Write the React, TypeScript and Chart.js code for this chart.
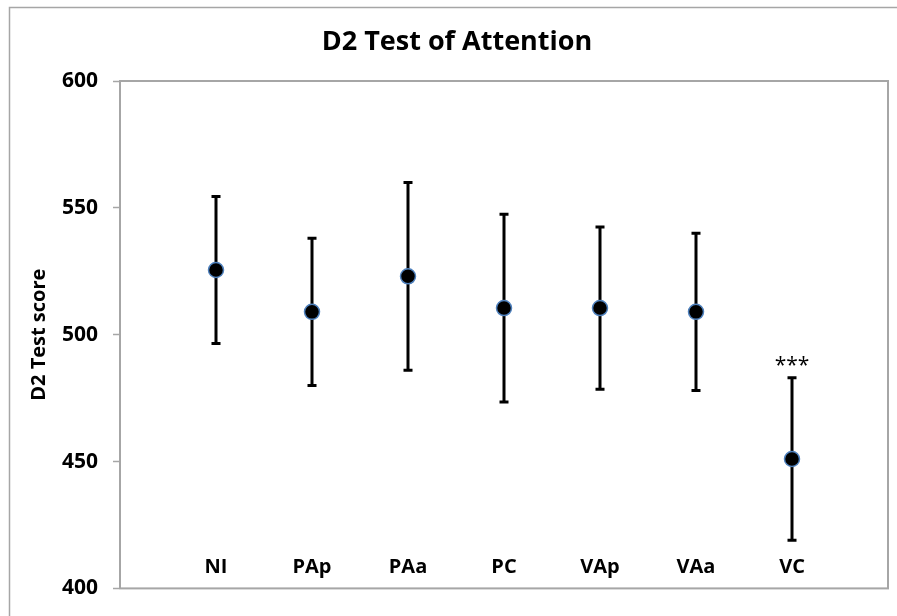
import React, { useEffect, useRef } from "react";
import { Chart, registerables } from "chart.js";

Chart.register(...registerables);

const chartTitle = "D2 Test of Attention";
const yAxisTitle = "D2 Test score";
const categories = ["NI", "PAp", "PAa", "PC", "VAp", "VAa", "VC"];
const means = [525.5, 509, 523, 510.5, 510.5, 509, 451];
const errors = [29, 29, 37, 37, 32, 31, 32];
const significance = ["", "", "", "", "", "", "***"];
const yTicks = [400, 450, 500, 550, 600];

const FONT = "'Open Sans', 'Noto Sans', sans-serif";
const GREY = "#a6a6a6";

const decorPlugin = {
  id: "decor",
  beforeDraw(chart: any) {
    const { ctx, chartArea } = chart;
    ctx.save();
    ctx.fillStyle = "#ffffff";
    ctx.fillRect(0, 0, chart.width, chart.height);
    // outer chart border
    ctx.strokeStyle = GREY;
    ctx.lineWidth = 1.5;
    ctx.strokeRect(9.5, 7.5, chart.width + 20, chart.height + 20);
    // plot frame
    ctx.lineWidth = 2;
    ctx.strokeRect(chartArea.left, chartArea.top, chartArea.right - chartArea.left, chartArea.bottom - chartArea.top);
    // title
    ctx.fillStyle = "#000";
    ctx.font = `bold 27px ${FONT}`;
    ctx.textAlign = "center";
    ctx.textBaseline = "middle";
    ctx.fillText(chartTitle, 457, 42);
    ctx.restore();
  },
  beforeDatasetsDraw(chart: any) {
    const { ctx, chartArea } = chart;
    const xs = chart.scales.x;
    const ys = chart.scales.y;
    ctx.save();
    ctx.strokeStyle = "#000";
    ctx.lineWidth = 3;
    means.forEach((m, i) => {
      const x = xs.getPixelForValue(i + 1);
      const yT = ys.getPixelForValue(m + errors[i]);
      const yB = ys.getPixelForValue(m - errors[i]);
      ctx.beginPath();
      ctx.moveTo(x, yT);
      ctx.lineTo(x, yB);
      ctx.moveTo(x - 4.5, yT);
      ctx.lineTo(x + 4.5, yT);
      ctx.moveTo(x - 4.5, yB);
      ctx.lineTo(x + 4.5, yB);
      ctx.stroke();
      if (significance[i]) {
        ctx.fillStyle = "#000";
        ctx.font = `21px ${FONT}`;
        ctx.textAlign = "center";
        ctx.textBaseline = "alphabetic";
        ctx.fillText(significance[i], x, yT - 6);
      }
    });
    // category labels inside plot
    ctx.fillStyle = "#000";
    ctx.font = `bold 20px ${FONT}`;
    ctx.textAlign = "center";
    ctx.textBaseline = "middle";
    categories.forEach((c, i) => {
      ctx.fillText(c, xs.getPixelForValue(i + 1), chartArea.bottom - 21);
    });
    ctx.restore();
  },
};

export default function App() {
  const ref = useRef<HTMLCanvasElement>(null);
  useEffect(() => {
    document.body.style.margin = "0";
    document.body.style.overflow = "hidden";
    const chart = new Chart(ref.current!, {
      type: "scatter",
      data: {
        datasets: [
          {
            data: means.map((m, i) => ({ x: i + 1, y: m })),
            pointRadius: 7.5,
            pointBackgroundColor: "#000000",
            pointBorderColor: "#4f81bd",
            pointBorderWidth: 1.5,
            showLine: false,
          },
        ],
      },
      options: {
        animation: false,
        responsive: false,
        layout: { padding: { left: 0, top: 81, right: 7, bottom: 19 } },
        plugins: {
          legend: { display: false },
          tooltip: { enabled: false },
          title: { display: false },
        },
        scales: {
          x: {
            type: "linear",
            min: 0,
            max: categories.length + 1,
            display: false,
          },
          y: {
            type: "linear",
            min: yTicks[0],
            max: yTicks[yTicks.length - 1],
            afterBuildTicks: (s: any) => {
              s.ticks = yTicks.map((v) => ({ value: v }));
            },
            afterFit: (s: any) => {
              s.width = 120;
            },
            border: { display: true, color: GREY, width: 2 },
            grid: {
              drawOnChartArea: false,
              drawTicks: true,
              tickLength: 7,
              tickColor: GREY,
              tickWidth: 1.5,
            },
            ticks: {
              color: "#000",
              padding: 15,
              font: { family: FONT, size: 21, weight: "bold" },
            },
            title: {
              display: true,
              text: yAxisTitle,
              color: "#000",
              font: { family: FONT, size: 20, weight: "bold" },
              padding: { top: 27, bottom: 0 },
            },
          },
        },
      },
      plugins: [decorPlugin],
    });
    return () => chart.destroy();
  }, []);
  return (
    <div style={{ width: 897, height: 616 }}>
      <canvas ref={ref} width={897} height={616} />
    </div>
  );
}
